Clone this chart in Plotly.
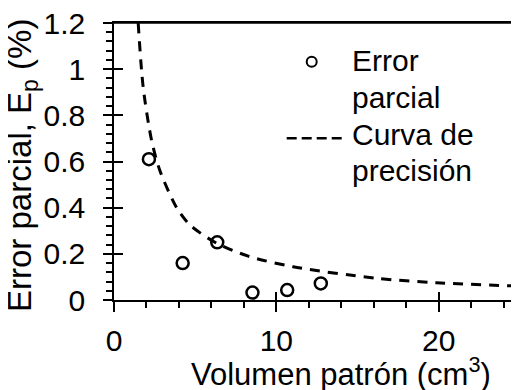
import plotly.graph_objects as go

# Data
vol_points = [2.15, 4.23, 6.36, 8.53, 10.67, 12.74]
err_points = [0.61, 0.16, 0.25, 0.032, 0.043, 0.072]

curve_x = [1.49, 1.80, 2.32, 2.83, 3.86, 4.68, 6.32, 8.27, 11.03, 16.17, 19.86, 24.95]
curve_y = [1.20, 0.92, 0.69, 0.56, 0.40, 0.325, 0.246, 0.19, 0.144, 0.094, 0.075, 0.060]

x_ticks = [0, 10, 20]
y_ticks = [0, 0.2, 0.4, 0.6, 0.8, 1, 1.2]
y_ticklabels = ["0", "0.2", "0.4", "0.6", "0.8", "1", "1.2"]

FONT = "Liberation Sans, Arial, sans-serif"
FS = 30
# The page body has an 8px margin, so the figure is drawn 8px in from the window corner.
OFF = 8
VW, VH = 519, 390
W, H = VW - OFF, VH - OFF
PL, PT, PR, PB = 114, 23, 519, 300   # plot area in window pixels
ML, MT = PL - OFF, PT - OFF
MR = VW - PR
PW, PH = PR - PL, PB - PT
MB = H - MT - PH
XR = [0, 24.95]
YR = [0, 1.2]


def px(xp):
    return (xp - PL) / PW


def py(yp):
    return (PB - yp) / PH


fig = go.Figure()
fig.add_trace(go.Scatter(
    x=curve_x, y=curve_y, mode="lines",
    line=dict(color="black", width=3, dash="10px,8px", shape="spline", smoothing=0.8),
    showlegend=False, cliponaxis=True,
))
fig.add_trace(go.Scatter(
    x=vol_points, y=err_points, mode="markers",
    marker=dict(symbol="circle-open", size=12, color="black", line=dict(width=2.5, color="black")),
    showlegend=False,
))
# dummy trace on overlay axes (inside tick halves)
fig.add_trace(go.Scatter(x=[None], y=[None], xaxis="x2", yaxis="y2", showlegend=False))

axis_common = dict(showgrid=False, zeroline=False, color="black", ticklabeloverflow="allow",
                   tickfont=dict(family=FONT, size=FS, color="black"))

fig.update_layout(
    width=W, height=H,
    margin=dict(l=ML, r=MR, t=MT, b=MB, autoexpand=False),
    paper_bgcolor="white", plot_bgcolor="white",
    font=dict(family=FONT, size=FS, color="black"),
    xaxis=dict(range=XR, tickvals=x_ticks, ticks="outside", ticklen=10, tickwidth=1.5,
               showline=True, linewidth=1.5, linecolor="black", mirror=True,
               minor=dict(dtick=2, tick0=0, ticks="outside", ticklen=6, tickwidth=1.5, tickcolor="black"),
               ticklabelstandoff=3, **axis_common),
    yaxis=dict(range=YR, tickvals=y_ticks, ticktext=y_ticklabels, ticks="outside", ticklen=9, tickwidth=1.5,
               showline=True, linewidth=1.5, linecolor="black",
               minor=dict(dtick=0.04, tick0=0, ticks="outside", ticklen=6, tickwidth=1.5, tickcolor="black"),
               ticklabelstandoff=12, **axis_common),
    xaxis2=dict(range=XR, overlaying="x", anchor="y", side="bottom", tickvals=x_ticks, ticks="inside",
                ticklen=8, tickwidth=1.5, tickcolor="black", showticklabels=False, showline=False,
                showgrid=False, zeroline=False),
    yaxis2=dict(range=YR, overlaying="y", anchor="x", side="left", tickvals=y_ticks, ticks="inside",
                ticklen=9, tickwidth=1.5, tickcolor="black", showticklabels=False, showline=False,
                showgrid=False, zeroline=False),
    showlegend=False,
)

# top frame line
fig.add_shape(type="line", xref="paper", yref="paper", x0=px(105), x1=1, y0=1, y1=1,
              line=dict(color="black", width=1.5))

# Axis titles
fig.add_annotation(text="Error parcial, E<sub>p</sub> (%)", xref="paper", yref="paper",
                   x=px(22), y=py(166), xanchor="center", yanchor="middle", textangle=-90,
                   showarrow=False, font=dict(family=FONT, size=33, color="black"))
fig.add_annotation(text="Volumen patrón (cm<sup>3</sup>)", xref="paper", yref="paper",
                   x=px(340.5), y=py(372), xanchor="center", yanchor="middle",
                   showarrow=False, font=dict(family=FONT, size=31, color="black"))

# Legend (manual)
legend_lines = [("Error", 61.0), ("parcial", 97.6), ("Curva de", 134.3), ("precisión", 170.3)]
for txt, ymid in legend_lines:
    fig.add_annotation(text=txt, xref="paper", yref="paper", x=px(350), y=py(ymid),
                       xanchor="left", yanchor="middle", showarrow=False,
                       font=dict(family=FONT, size=FS, color="black"))
fig.add_shape(type="circle", xref="paper", yref="paper", xsizemode="pixel", ysizemode="pixel",
              xanchor=px(311.7), yanchor=py(61.7), x0=-5, x1=5, y0=-5, y1=5,
              line=dict(color="black", width=2))
fig.add_shape(type="line", xref="paper", yref="paper", x0=px(286.7), x1=px(341.7),
              y0=py(138.3), y1=py(138.3), line=dict(color="black", width=2.5, dash="10px,5px"))

fig.write_html("out.html")
